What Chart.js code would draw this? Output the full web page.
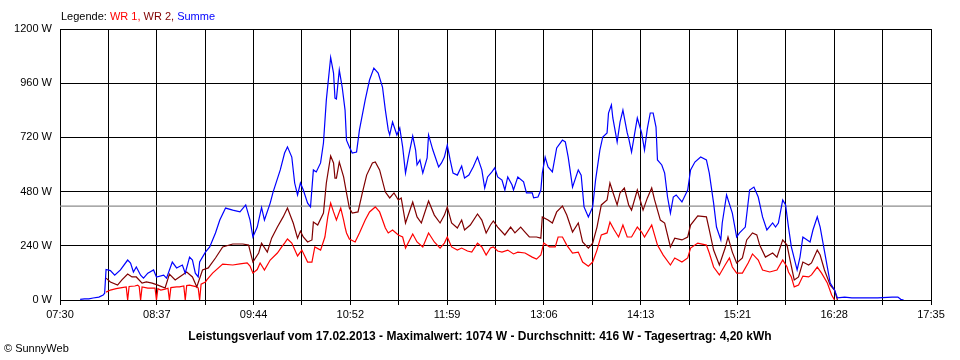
<!DOCTYPE html>
<html>
<head>
<meta charset="utf-8">
<script src="https://cdn.jsdelivr.net/npm/chart.js@4/dist/chart.umd.min.js"></script>
<style>
  html, body { margin: 0; padding: 0; background: #ffffff; }
</style>
</head>
<body>
<canvas id="chart" width="960" height="360"></canvas>
<script>
// Leistungsverlauf 17.02.2013, Werte in W
const timeLabels = ["07:30", "08:37", "09:44", "10:52", "11:59", "13:06", "14:13", "15:21", "16:28", "17:35"]
const yTicks = [0, 240, 480, 720, 960, 1200]

const summeTimes = [
  "07:44", "07:47", "07:50", "07:53", "07:57", "08:00", "08:01", "08:02", "08:05", "08:08",
  "08:12", "08:17", "08:19", "08:21", "08:23", "08:26", "08:28", "08:31", "08:35", "08:37",
  "08:42", "08:44", "08:48", "08:51", "08:55", "08:57", "09:00", "09:02", "09:04", "09:06",
  "09:07", "09:11", "09:14", "09:18", "09:21", "09:25", "09:30", "09:35", "09:39", "09:42",
  "09:44", "09:47", "09:50", "09:52", "09:56", "09:58", "10:03", "10:06", "10:08", "10:11",
  "10:13", "10:15", "10:17", "10:19", "10:22", "10:24", "10:26", "10:28", "10:31", "10:33",
  "10:35", "10:38", "10:40", "10:41", "10:42", "10:44", "10:46", "10:48", "10:49", "10:51",
  "10:53", "10:56", "10:58", "11:02", "11:05", "11:08", "11:11", "11:14", "11:16", "11:18",
  "11:19", "11:21", "11:24", "11:26", "11:28", "11:30", "11:32", "11:35", "11:37", "11:38",
  "11:40", "11:42", "11:45", "11:46", "11:49", "11:53", "11:55", "11:57", "11:59", "12:01",
  "12:03", "12:06", "12:09", "12:11", "12:14", "12:17", "12:20", "12:23", "12:25", "12:27",
  "12:30", "12:32", "12:34", "12:37", "12:39", "12:41", "12:44", "12:45", "12:48", "12:52",
  "12:54", "12:58", "12:59", "13:02", "13:04", "13:05", "13:07", "13:09", "13:12", "13:15",
  "13:19", "13:21", "13:23", "13:26", "13:30", "13:32", "13:34", "13:37", "13:40", "13:42",
  "13:45", "13:47", "13:50", "13:51", "13:53", "13:54", "13:57", "13:59", "14:01", "14:04",
  "14:05", "14:07", "14:09", "14:11", "14:14", "14:16", "14:18", "14:20", "14:22", "14:24",
  "14:25", "14:28", "14:30", "14:32", "14:34", "14:36", "14:38", "14:42", "14:46", "14:48",
  "14:51", "14:55", "14:59", "15:01", "15:04", "15:06", "15:09", "15:10", "15:13", "15:17",
  "15:20", "15:22", "15:26", "15:29", "15:32", "15:35", "15:38", "15:41", "15:45", "15:47",
  "15:49", "15:52", "15:54", "15:56", "15:58", "16:02", "16:04", "16:06", "16:09", "16:11",
  "16:13", "16:16", "16:18", "16:20", "16:23", "16:25", "16:28", "16:30", "16:35", "16:40",
  "16:49", "16:58", "17:08", "17:12", "17:14", "17:16"
]
const summeWatts = [
  3, 5, 5, 9, 13, 22, 30, 135, 130, 110,
  133, 177, 164, 124, 146, 110, 97, 119, 133, 102,
  110, 97, 168, 142, 155, 119, 190, 177, 119, 102,
  168, 212, 235, 297, 354, 407, 398, 390, 421, 354,
  279, 323, 410, 354, 429, 478, 576, 651, 678, 633,
  518, 465, 518, 487, 429, 412, 576, 567, 607, 695,
  886, 1074, 1005, 894, 890, 1018, 943, 841, 708, 678,
  651, 655, 753, 886, 974, 1027, 1005, 943, 841, 753,
  731, 788, 731, 762, 678, 562, 633, 726, 664, 598,
  620, 562, 629, 731, 664, 589, 607, 633, 686, 620,
  562, 553, 593, 540, 553, 589, 633, 576, 496, 545,
  567, 585, 545, 531, 487, 545, 509, 487, 545, 523,
  474, 474, 452, 456, 487, 562, 633, 589, 567, 673,
  708, 700, 633, 500, 576, 553, 412, 368, 412, 531,
  664, 722, 740, 828, 864, 806, 700, 788, 841, 740,
  717, 655, 731, 806, 740, 664, 760, 828, 828, 766,
  620, 598, 562, 456, 385, 456, 465, 434, 487, 576,
  611, 633, 620, 562, 429, 323, 266, 341, 465, 385,
  279, 297, 323, 487, 500, 456, 368, 310, 341, 323,
  341, 443, 421, 323, 235, 133, 190, 279, 266, 257,
  310, 368, 323, 252, 146, 75, 44, 9, 13, 9,
  9, 9, 13, 13, 3, 0
]

const wr1Times = [
  "08:02", "08:05", "08:09", "08:13", "08:16", "08:17", "08:18", "08:22", "08:24", "08:25",
  "08:26", "08:27", "08:31", "08:36", "08:37", "08:38", "08:40", "08:43", "08:45", "08:46",
  "08:47", "08:51", "08:53", "08:56", "08:57", "08:58", "09:00", "09:05", "09:06", "09:07",
  "09:08", "09:11", "09:12", "09:16", "09:23", "09:30", "09:35", "09:40", "09:42", "09:44",
  "09:47", "09:49", "09:52", "09:56", "10:01", "10:04", "10:06", "10:08", "10:11", "10:15",
  "10:18", "10:22", "10:25", "10:27", "10:31", "10:34", "10:36", "10:38", "10:40", "10:42",
  "10:45", "10:47", "10:48", "10:49", "10:51", "10:55", "10:58", "11:02", "11:05", "11:09",
  "11:12", "11:16", "11:18", "11:21", "11:25", "11:28", "11:30", "11:35", "11:38", "11:42",
  "11:46", "11:50", "11:54", "11:57", "11:59", "12:02", "12:06", "12:09", "12:13", "12:16",
  "12:20", "12:23", "12:26", "12:29", "12:31", "12:34", "12:37", "12:41", "12:45", "12:48",
  "12:53", "12:58", "13:01", "13:04", "13:06", "13:10", "13:14", "13:16", "13:19", "13:22",
  "13:26", "13:30", "13:33", "13:37", "13:40", "13:43", "13:46", "13:50", "13:52", "13:55",
  "13:58", "14:01", "14:04", "14:07", "14:11", "14:14", "14:16", "14:21", "14:25", "14:29",
  "14:34", "14:37", "14:42", "14:46", "14:48", "14:53", "14:59", "15:01", "15:04", "15:08",
  "15:12", "15:15", "15:17", "15:20", "15:24", "15:28", "15:31", "15:35", "15:38", "15:43",
  "15:48", "15:52", "15:55", "15:56", "15:58", "16:00", "16:03", "16:06", "16:10", "16:12",
  "16:16", "16:19", "16:23", "16:26", "16:28"
]
const wr1Watts = [
  35, 44, 50, 55, 58, 0, 60, 62, 66, 60,
  0, 58, 53, 53, 0, 50, 44, 48, 52, 0,
  55, 58, 58, 62, 0, 64, 66, 58, 53, 0,
  70, 80, 89, 119, 159, 155, 160, 164, 150, 119,
  135, 164, 133, 177, 208, 235, 252, 270, 252, 195,
  221, 168, 168, 235, 221, 279, 368, 429, 390, 354,
  407, 354, 323, 297, 270, 257, 297, 354, 390, 412,
  390, 319, 297, 310, 288, 279, 230, 292, 257, 235,
  297, 257, 230, 252, 279, 235, 221, 230, 217, 212,
  252, 235, 199, 230, 235, 217, 212, 221, 204, 212,
  208, 190, 181, 199, 252, 235, 235, 279, 279, 243,
  208, 212, 168, 150, 168, 221, 288, 297, 345, 310,
  279, 332, 279, 279, 323, 301, 279, 332, 243, 199,
  155, 186, 168, 186, 230, 252, 243, 208, 146, 111,
  155, 186, 146, 119, 119, 164, 204, 177, 133, 124,
  133, 177, 146, 124, 102, 58, 66, 106, 102, 111,
  146, 119, 75, 22, 0
]

const wr2Times = [
  "08:02", "08:05", "08:10", "08:13", "08:17", "08:20", "08:23", "08:27", "08:30", "08:34",
  "08:38", "08:43", "08:46", "08:50", "08:53", "08:58", "09:02", "09:05", "09:09", "09:13",
  "09:18", "09:23", "09:30", "09:37", "09:41", "09:44", "09:48", "09:50", "09:54", "09:57",
  "10:01", "10:05", "10:08", "10:12", "10:15", "10:17", "10:19", "10:22", "10:25", "10:26",
  "10:29", "10:33", "10:35", "10:38", "10:40", "10:41", "10:42", "10:44", "10:47", "10:49",
  "10:51", "10:53", "10:57", "11:00", "11:03", "11:07", "11:09", "11:12", "11:16", "11:19",
  "11:22", "11:25", "11:27", "11:30", "11:35", "11:38", "11:41", "11:46", "11:50", "11:54",
  "11:57", "11:59", "12:02", "12:06", "12:09", "12:11", "12:15", "12:20", "12:23", "12:26",
  "12:29", "12:31", "12:34", "12:39", "12:43", "12:46", "12:50", "12:53", "12:56", "13:01",
  "13:04", "13:05", "13:09", "13:12", "13:15", "13:19", "13:22", "13:26", "13:30", "13:33",
  "13:37", "13:40", "13:43", "13:46", "13:50", "13:52", "13:54", "13:57", "13:59", "14:02",
  "14:05", "14:07", "14:11", "14:15", "14:18", "14:21", "14:23", "14:27", "14:30", "14:34",
  "14:37", "14:42", "14:46", "14:48", "14:53", "14:59", "15:01", "15:04", "15:08", "15:12",
  "15:14", "15:17", "15:20", "15:24", "15:27", "15:31", "15:34", "15:36", "15:40", "15:45",
  "15:48", "15:52", "15:55", "15:57", "16:00", "16:03", "16:06", "16:10", "16:12", "16:16",
  "16:18", "16:21", "16:25", "16:28", "16:30"
]
const wr2Watts = [
  97, 80, 66, 89, 115, 102, 102, 75, 80, 75,
  66, 53, 115, 89, 102, 124, 102, 58, 133, 142,
  186, 235, 248, 248, 243, 168, 208, 252, 212, 274,
  323, 368, 407, 341, 274, 305, 279, 257, 266, 345,
  332, 385, 518, 638, 607, 540, 540, 611, 545, 474,
  407, 385, 390, 474, 553, 607, 611, 576, 478, 452,
  474, 443, 452, 341, 434, 368, 341, 438, 376, 341,
  376, 412, 341, 319, 354, 310, 332, 381, 354, 297,
  332, 350, 323, 288, 323, 297, 323, 301, 279, 279,
  274, 368, 354, 341, 390, 416, 376, 301, 341, 257,
  230, 252, 323, 421, 443, 518, 478, 421, 474, 496,
  421, 398, 487, 398, 452, 496, 443, 354, 341, 235,
  274, 266, 279, 332, 372, 368, 310, 221, 155, 230,
  279, 212, 164, 186, 266, 297, 288, 243, 190, 208,
  190, 266, 243, 180, 89, 102, 168, 155, 164, 221,
  199, 133, 66, 44, 0
]

const durchschnitt = 416
const caption = "Leistungsverlauf vom 17.02.2013 - Maximalwert: 1074 W - Durchschnitt: 416 W - Tagesertrag: 4,20 kWh"

const FONT = "'Liberation Sans', Arial, sans-serif"

function toMinutes(t) {
  const [h, m] = t.split(":").map(Number)
  return h * 60 + m
}

function points(times, watts) {
  return times.map((t, i) => ({ x: toMinutes(t), y: watts[i] }))
}

const xMin = toMinutes(timeLabels[0])
const xMax = toMinutes(timeLabels[timeLabels.length - 1])
const gridSteps = (timeLabels.length - 1) * 2

const textPlugin = {
  id: "sunnyText",
  afterDraw(chart) {
    const ctx = chart.ctx
    ctx.save()
    ctx.textBaseline = "middle"
    ctx.font = "11px " + FONT
    const parts = [
      ["Legende: ", "#000000"],
      ["WR 1, ", "#ff0000"],
      ["WR 2, ", "#800000"],
      ["Summe", "#0000ff"]
    ]
    let x = 61
    parts.forEach(([text, color]) => {
      ctx.fillStyle = color
      ctx.fillText(text, x, 17)
      x += ctx.measureText(text).width
    })

    ctx.fillStyle = "#000000"
    ctx.font = "bold 12px " + FONT
    ctx.textAlign = "center"
    ctx.fillText(caption, 480, 337)

    ctx.font = "11px " + FONT
    ctx.textAlign = "left"
    ctx.fillText("\u00a9 SunnyWeb", 4, 349)
    ctx.restore()
  }
}

const line = (label, data, color, order) => ({
  label,
  data,
  borderColor: color,
  borderWidth: 1.2,
  pointRadius: 0,
  tension: 0,
  fill: false,
  order
})

new Chart(document.getElementById("chart"), {
  type: "line",
  data: {
    datasets: [
      line("Summe", points(summeTimes, summeWatts), "#0000ff", 1),
      line("WR 2", points(wr2Times, wr2Watts), "#800000", 2),
      line("WR 1", points(wr1Times, wr1Watts), "#ff0000", 3),
      line("Durchschnitt", [{ x: xMin, y: durchschnitt }, { x: xMax, y: durchschnitt }], "#8c8c8c", 4)
    ]
  },
  options: {
    responsive: false,
    animation: false,
    layout: {
      padding: { left: 0, right: 29, top: 29, bottom: 0 }
    },
    plugins: {
      legend: { display: false },
      tooltip: { enabled: false }
    },
    scales: {
      x: {
        type: "linear",
        min: xMin,
        max: xMax,
        afterBuildTicks: (scale) => {
          const ticks = []
          for (let i = 0; i <= gridSteps; i++) {
            ticks.push({ value: xMin + (i * (xMax - xMin)) / gridSteps })
          }
          scale.ticks = ticks
        },
        afterFit: (scale) => {
          scale.height = 60
        },
        grid: {
          color: "#000000",
          tickColor: "#000000",
          tickLength: 5,
          lineWidth: 1
        },
        border: { color: "#000000" },
        ticks: {
          autoSkip: false,
          maxRotation: 0,
          padding: 3,
          color: "#000000",
          font: { family: FONT, size: 11 },
          callback: (value, index) => (index % 2 === 0 ? timeLabels[index / 2] : "")
        }
      },
      y: {
        min: yTicks[0],
        max: yTicks[yTicks.length - 1],
        afterBuildTicks: (scale) => {
          scale.ticks = yTicks.map((v) => ({ value: v }))
        },
        afterFit: (scale) => {
          scale.width = 60
        },
        grid: {
          color: "#000000",
          drawTicks: false,
          lineWidth: 1
        },
        border: { color: "#000000" },
        ticks: {
          padding: 8,
          color: "#000000",
          font: { family: FONT, size: 11 },
          callback: (value) => value + " W"
        }
      }
    }
  },
  plugins: [textPlugin]
})
</script>
</body>
</html>
